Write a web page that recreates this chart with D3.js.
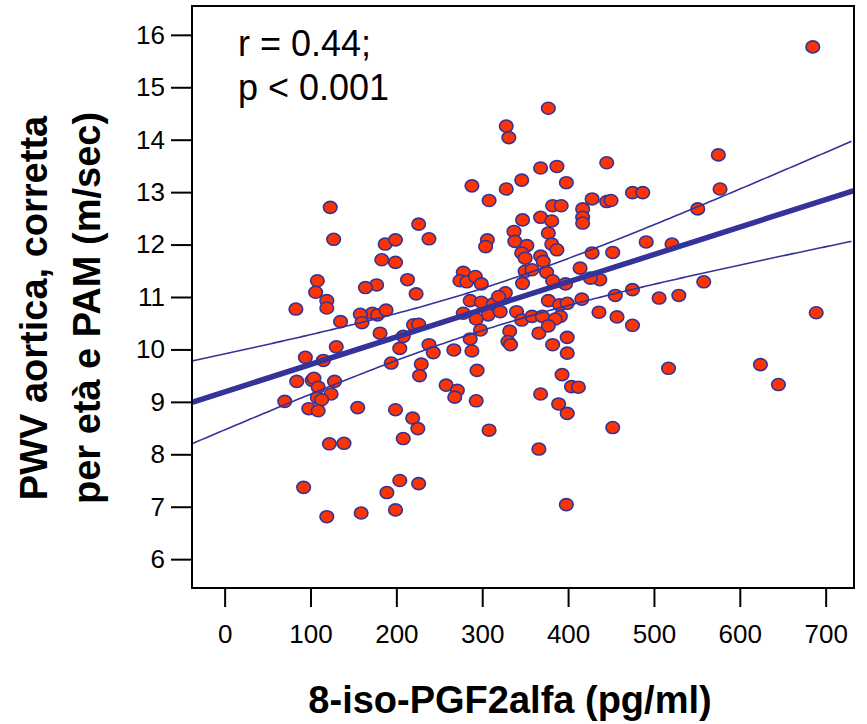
<!DOCTYPE html>
<html>
<head>
<meta charset="utf-8">
<script src="https://cdn.jsdelivr.net/npm/d3@7"></script>
<style>
  body { margin: 0; background: #fff; }
  svg { display: block; }
  text { font-family: "Liberation Sans", Arial, sans-serif; fill: #000; }
</style>
</head>
<body>
<svg id="chart" width="867" height="724"></svg>
<script>
// 8-iso-PGF2alfa (pg/ml), one value per patient
const isoPGF2 = [
    685,
    445, 575, 445, 450, 475, 487, 577, 551, 452, 491, 521, 437, 558, 455, 475, 506, 529, 436, 457, 475, 689, 517, 624, 645, 452,
    377, 328, 331, 368, 387, 398, 346, 288, 328, 308, 428, 382, 392, 417, 417, 417, 347, 368, 381, 226, 238, 187, 199, 183,
    199, 306, 304, 337, 338, 377, 381, 387, 352, 346, 350, 368, 371, 428, 414, 350, 358, 375, 382, 397, 426, 177, 213, 278,
    274, 282, 292, 299, 347,
    223, 286, 299, 313, 327, 319, 307, 321, 278, 293, 172, 178, 188, 340, 346, 358, 370, 377, 390, 399, 391, 385, 416, 181,
    208, 220, 226, 298, 286, 332, 330, 333, 366, 377, 399, 382, 399, 204, 238, 243, 267, 288, 194, 229, 227, 294, 258, 271,
    268, 293, 393, 368, 404, 412, 389, 399, 199, 219, 225, 208, 308, 366, 204, 226, 189, 199, 398,
    123, 127, 108, 106, 119, 119, 83, 135, 164, 158, 160, 130,
    94, 115, 84, 102, 104, 128, 109, 124, 108, 113, 70, 98, 109, 155, 122, 139, 92, 119, 159
];

// PWV aortica corretta per età e PAM (m/sec), same order
const pwvCorr = [
    15.77,
    13.56, 13.71, 12.82, 12.84, 12.99, 12.99, 13.06, 12.68, 11.85, 12.05, 12.01, 11.33, 11.29, 11.03, 11.14, 10.98, 11.03,
    10.71, 10.62, 10.46, 10.70, 9.64, 9.71, 9.33, 8.51,
    14.60, 14.26, 14.04, 13.46, 13.49, 13.18, 13.23, 13.12, 13.06, 12.84, 12.87, 12.74, 12.74, 12.68, 12.52, 12.41, 12.47,
    12.52, 12.45, 12.39, 12.11, 12.01, 12.09, 11.71, 11.66, 12.09, 11.96, 12.25, 12.06, 12.22, 12.01, 11.90, 11.98, 11.84,
    11.74, 11.78, 11.68, 11.84, 11.55, 11.49, 11.52, 11.47, 11.31, 11.25, 11.36, 11.23, 11.33, 11.47, 11.31, 11.29, 11.39,
    11.25, 11.26,
    11.06, 10.93, 10.90, 10.87, 11.08, 11.01, 10.66, 10.72, 10.69, 10.58, 10.69, 10.66, 10.75, 10.72, 10.56, 10.63, 10.63,
    10.93, 10.85, 10.88, 10.63, 10.58, 10.96, 10.31, 10.25, 10.47, 10.48, 10.37, 10.20, 10.35, 10.15, 10.09, 10.31, 10.45,
    10.23, 10.09, 9.93, 10.02, 10.09, 9.94, 9.99, 9.97, 9.74, 9.72, 9.50, 9.60, 9.32, 9.22, 9.09, 9.02, 9.52, 9.15, 9.29,
    9.28, 8.96, 8.78, 8.85, 8.69, 8.49, 8.30, 8.46, 8.10, 7.50, 7.44, 7.27, 6.94, 7.04,
    12.71, 12.10, 11.31, 11.09, 10.93, 10.79, 10.77, 10.53, 11.18, 10.67, 10.51, 10.05,
    9.85, 9.79, 9.39, 9.41, 9.45, 9.39, 9.28, 9.15, 9.08, 9.04, 9.01, 8.87, 8.83, 8.89, 8.20, 8.21, 7.37, 6.81, 6.88
];

const xTicks = [0, 100, 200, 300, 400, 500, 600, 700];
const yTicks = [6, 7, 8, 9, 10, 11, 12, 13, 14, 15, 16];

const statsLines = ['r = 0.44;', 'p < 0.001'];
const yTitleLines = ['PWV aortica, corretta', 'per età e PAM (m/sec)'];
const xTitle = '8-iso-PGF2alfa (pg/ml)';

// regression line and its 95% band
const fitIntercept = 9.19;
const fitSlope = 0.00524;
const bandBase = 0.16;       // squared half-width at the mean of x
const bandSpread = 4.06e-6;  // growth of squared half-width with (x - mean)^2
const bandCentre = 300;

const lineColor = '#333399';
const dotFill = '#ff3300';

const frame = { left: 192, right: 854, top: 6, bottom: 588 };

const svg = d3.select('#chart');

const x = d3.scaleLinear().domain([-38, 733]).range([frame.left, frame.right]);
const y = d3.scaleLinear().domain([5.45, 16.55]).range([frame.bottom, frame.top]);

svg.append('clipPath').attr('id', 'plot-clip')
    .append('rect')
    .attr('x', frame.left).attr('y', frame.top)
    .attr('width', frame.right - frame.left)
    .attr('height', frame.bottom - frame.top);

const plot = svg.append('g').attr('clip-path', 'url(#plot-clip)');

// points
plot.append('g')
    .selectAll('ellipse')
    .data(d3.zip(isoPGF2, pwvCorr))
    .join('ellipse')
    .attr('cx', d => x(d[0]))
    .attr('cy', d => y(d[1]))
    .attr('rx', 6.8)
    .attr('ry', 6)
    .attr('fill', dotFill)
    .attr('stroke', lineColor)
    .attr('stroke-width', 1.6);

// fitted line and confidence band
const fit = v => fitIntercept + fitSlope * v;
const halfWidth = v => Math.sqrt(bandBase + bandSpread * (v - bandCentre) * (v - bandCentre));
const xs = d3.range(x.domain()[0], x.domain()[1] + 1, 4);

const lineGen = d3.line().x(d => x(d[0])).y(d => y(d[1]));

plot.append('path')
    .attr('d', lineGen(xs.map(v => [v, fit(v) + halfWidth(v)])))
    .attr('fill', 'none').attr('stroke', lineColor).attr('stroke-width', 1.6);

plot.append('path')
    .attr('d', lineGen(xs.map(v => [v, fit(v) - halfWidth(v)])))
    .attr('fill', 'none').attr('stroke', lineColor).attr('stroke-width', 1.6);

plot.append('path')
    .attr('d', lineGen(x.domain().map(v => [v, fit(v)])))
    .attr('fill', 'none').attr('stroke', lineColor).attr('stroke-width', 5.5);

// frame
svg.append('rect')
    .attr('x', frame.left).attr('y', frame.top)
    .attr('width', frame.right - frame.left)
    .attr('height', frame.bottom - frame.top)
    .attr('fill', 'none').attr('stroke', '#000').attr('stroke-width', 2);

// axes
const yAxis = svg.append('g')
    .attr('transform', `translate(${frame.left},0)`)
    .call(d3.axisLeft(y).tickValues(yTicks).tickSize(21).tickPadding(6).tickSizeOuter(0));

const xAxis = svg.append('g')
    .attr('transform', `translate(0,${frame.bottom})`)
    .call(d3.axisBottom(x).tickValues(xTicks).tickSize(19).tickPadding(18).tickSizeOuter(0));

[yAxis, xAxis].forEach(ax => {
    ax.select('.domain').remove();
    ax.selectAll('.tick line').attr('stroke', '#000').attr('stroke-width', 2);
    ax.selectAll('.tick text').attr('font-size', 26).attr('fill', '#000')
        .style('font-family', '"Liberation Sans", Arial, sans-serif');
});

// r / p annotation
svg.append('text')
    .attr('y', 56)
    .attr('font-size', 36)
    .selectAll('tspan')
    .data(statsLines)
    .join('tspan')
    .attr('x', 238)
    .attr('dy', (d, i) => i === 0 ? 0 : 44)
    .text(d => d);

// axis titles
svg.append('text')
    .attr('x', 510).attr('y', 713)
    .attr('text-anchor', 'middle')
    .attr('font-size', 38).attr('font-weight', 'bold')
    .text(xTitle);

yTitleLines.forEach((line, i) => {
    svg.append('text')
        .attr('transform', `translate(${i === 0 ? 46.5 : 99.5},308) rotate(-90)`)
        .attr('text-anchor', 'middle')
        .attr('font-size', 38).attr('font-weight', 'bold')
        .text(line);
});
</script>
</body>
</html>
